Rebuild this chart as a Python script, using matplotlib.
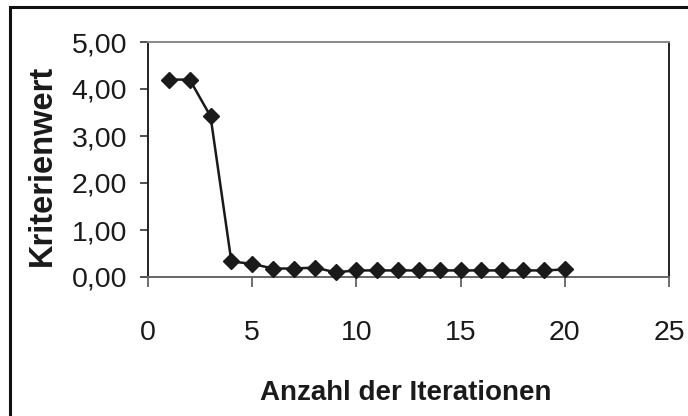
import matplotlib.pyplot as plt
from matplotlib.patches import Rectangle
from matplotlib.ticker import FuncFormatter

plt.rcParams['font.family'] = ['Liberation Sans', 'DejaVu Sans']

iterationen = list(range(1, 21))
kriterienwert = [4.20, 4.20, 3.42, 0.33, 0.28, 0.18, 0.18, 0.20, 0.10, 0.14,
                 0.14, 0.14, 0.14, 0.14, 0.14, 0.14, 0.14, 0.14, 0.14, 0.16]
x_ticks = [0, 5, 10, 15, 20, 25]
y_ticks = [0, 1, 2, 3, 4, 5]

fig = plt.figure(figsize=(6.88, 4.16), dpi=100)
ax = fig.add_axes([148 / 688, 1 - 277 / 416, (669 - 148) / 688, (277 - 42) / 416])

ax.plot(iterationen, kriterienwert, color='#1a1a1a', linewidth=1.8,
        marker='D', markersize=8.5, markerfacecolor='#1a1a1a',
        markeredgecolor='#1a1a1a', clip_on=False, zorder=3)

ax.set_xlim(0, 25)
ax.set_ylim(0, 5)
ax.set_xticks(x_ticks)
ax.set_yticks(y_ticks)
ax.yaxis.set_major_formatter(FuncFormatter(lambda v, p: f'{v:.2f}'.replace('.', ',')))

ax.tick_params(axis='x', direction='out', length=7, width=1.2, color='#555555',
               pad=24, labelsize=20.5, labelcolor='#1a1a1a')
ax.tick_params(axis='y', direction='out', length=6, width=1.2, color='#333333',
               pad=9, labelsize=20.5, labelcolor='#1a1a1a')

ax.spines['left'].set_color('#222222')
ax.spines['left'].set_linewidth(1.4)
ax.spines['bottom'].set_color('#666666')
ax.spines['bottom'].set_linewidth(1.4)
ax.spines['top'].set_color('#888888')
ax.spines['top'].set_linewidth(1.4)
ax.spines['right'].set_color('#222222')
ax.spines['right'].set_linewidth(1.4)

fig.text(42 / 688, 1 - 165 / 416, 'Kriterienwert', rotation=90, ha='center',
         va='center', fontsize=23.5, fontweight='bold', color='#1a1a1a')
fig.text(406 / 688, 16 / 416, 'Anzahl der Iterationen', ha='center',
         va='baseline', fontsize=20, fontweight='bold', color='#1a1a1a')

# outer chart frame, cut off at right and bottom like the scan
fig.patches.append(Rectangle((10 / 688, -0.05), 1.1, 1 - 7 / 416 + 0.05,
                             transform=fig.transFigure, fill=False,
                             edgecolor='#111111', linewidth=2.2))

fig.savefig('out.png', dpi=100)
